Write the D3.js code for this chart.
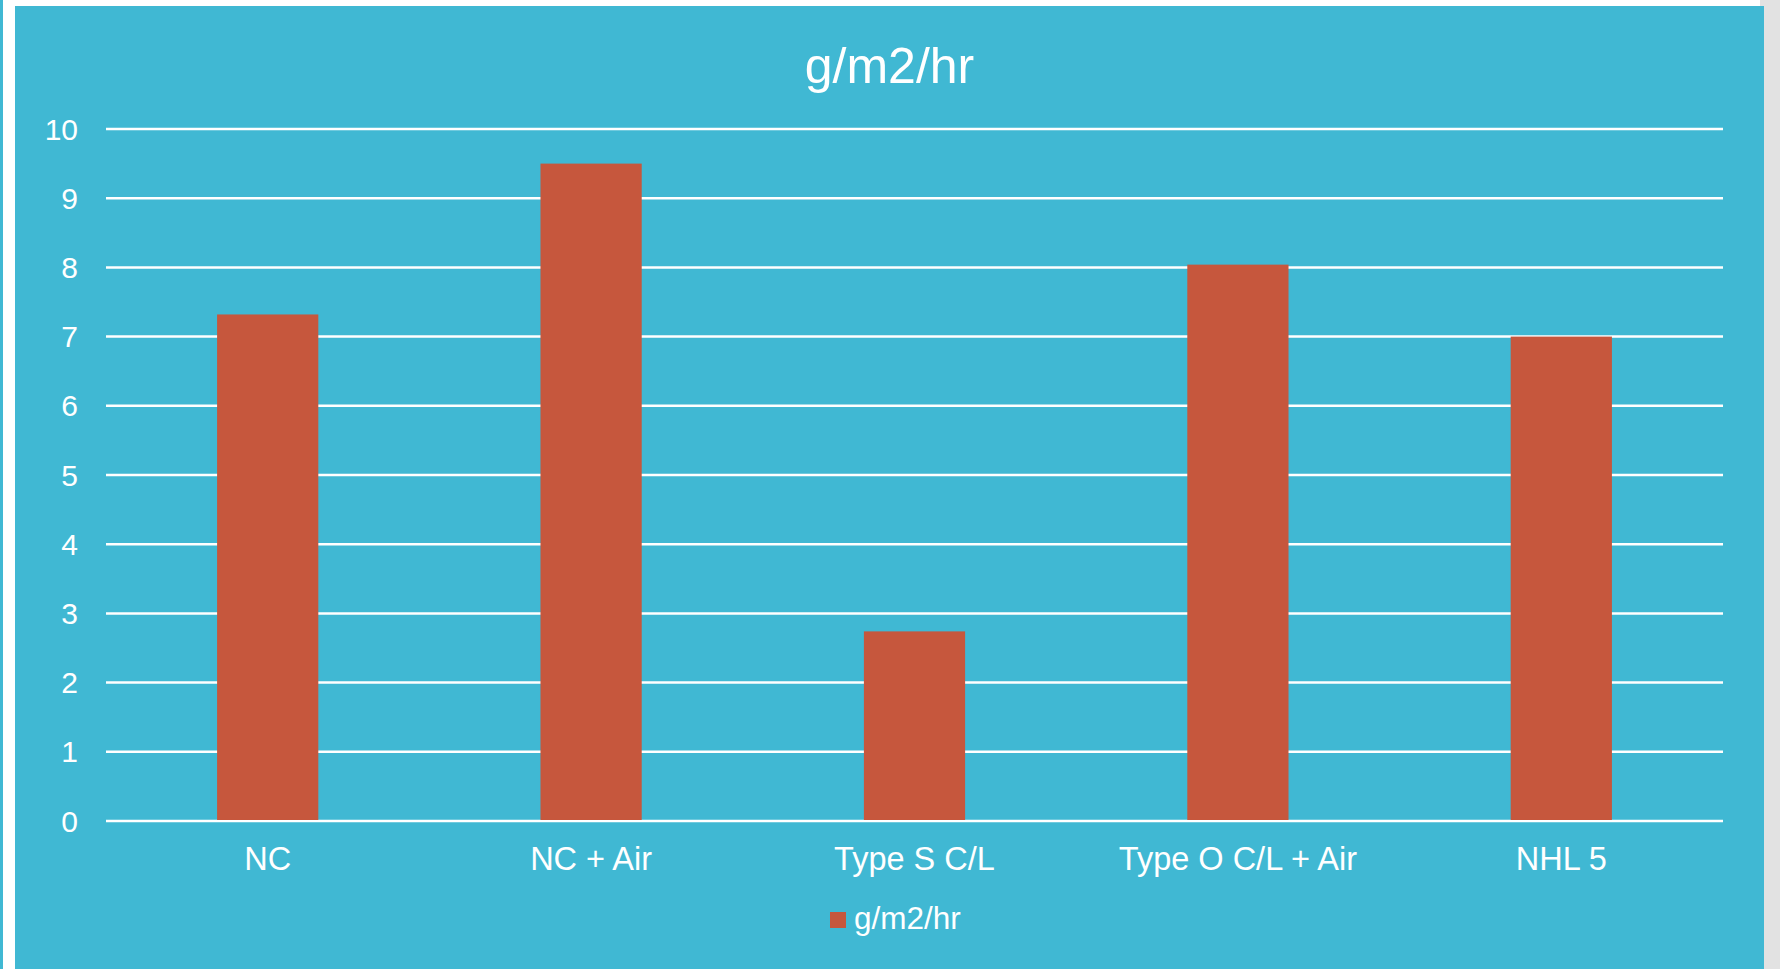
<!DOCTYPE html>
<html>
<head>
<meta charset="utf-8">
<script src="https://cdn.jsdelivr.net/npm/d3@7"></script>
<style>
  html, body { margin: 0; padding: 0; background: #e2e2e2; }
  svg { display: block; font-family: "Liberation Sans", Arial, sans-serif; }
</style>
</head>
<body>
<script>
// Evaporation rate per mix, in g/m2/hr
const categories = ["NC", "NC + Air", "Type S C/L", "Type O C/L + Air", "NHL 5"];
const values = [7.32, 9.5, 2.74, 8.04, 7.0];
const yTicks = [0, 1, 2, 3, 4, 5, 6, 7, 8, 9, 10];
const seriesName = "g/m2/hr";
const chartTitle = "g/m2/hr";

const W = 1780, H = 969;
const teal = "#40b8d3", barColor = "#c6573d";

const svg = d3.select("body").append("svg")
  .attr("width", W).attr("height", H);

// page frame: grey margin, white border, thin teal edge on the left
svg.append("rect").attr("x", 0).attr("y", 0).attr("width", W).attr("height", H).attr("fill", "#e2e2e2");
svg.append("rect").attr("x", 0).attr("y", 0).attr("width", 1760).attr("height", H).attr("fill", "#ffffff");
svg.append("rect").attr("x", 0).attr("y", 0).attr("width", 3).attr("height", H).attr("fill", teal);
svg.append("rect").attr("x", 15).attr("y", 6).attr("width", 1749).attr("height", H - 6).attr("fill", teal);

const plot = { left: 106, right: 1723, top: 129, bottom: 821 };

const x = d3.scaleBand()
  .domain(categories)
  .range([plot.left, plot.right])
  .paddingInner(0.687)
  .paddingOuter(0.3435);

const y = d3.scaleLinear()
  .domain([0, 10])
  .range([plot.bottom, plot.top]);

// horizontal gridlines
svg.append("g")
  .selectAll("line")
  .data(yTicks)
  .join("line")
  .attr("x1", plot.left).attr("x2", plot.right)
  .attr("y1", d => y(d)).attr("y2", d => y(d))
  .attr("stroke", "#ffffff").attr("stroke-width", 2.5);

// y tick labels
svg.append("g")
  .selectAll("text")
  .data(yTicks)
  .join("text")
  .attr("x", 78)
  .attr("y", d => y(d) + 10.5)
  .attr("text-anchor", "end")
  .attr("fill", "#ffffff")
  .attr("font-size", 30)
  .text(d => d);

// bars
svg.append("g")
  .selectAll("rect")
  .data(values)
  .join("rect")
  .attr("x", (d, i) => x(categories[i]))
  .attr("width", x.bandwidth())
  .attr("y", d => y(d))
  .attr("height", d => y(0) - y(d) - 1)
  .attr("fill", barColor);

// category labels
svg.append("g")
  .selectAll("text")
  .data(categories)
  .join("text")
  .attr("x", d => x(d) + x.bandwidth() / 2)
  .attr("y", 870)
  .attr("text-anchor", "middle")
  .attr("fill", "#ffffff")
  .attr("font-size", 32.5)
  .text(d => d);

// title
svg.append("text")
  .attr("x", 889.5).attr("y", 83)
  .attr("text-anchor", "middle")
  .attr("fill", "#ffffff")
  .attr("font-size", 50)
  .text(chartTitle);

// legend
const legend = svg.append("g");
legend.append("rect")
  .attr("x", 830).attr("y", 912)
  .attr("width", 16).attr("height", 16)
  .attr("fill", barColor);
legend.append("text")
  .attr("x", 854).attr("y", 929)
  .attr("fill", "#ffffff")
  .attr("font-size", 31.5)
  .text(seriesName);
</script>
</body>
</html>
